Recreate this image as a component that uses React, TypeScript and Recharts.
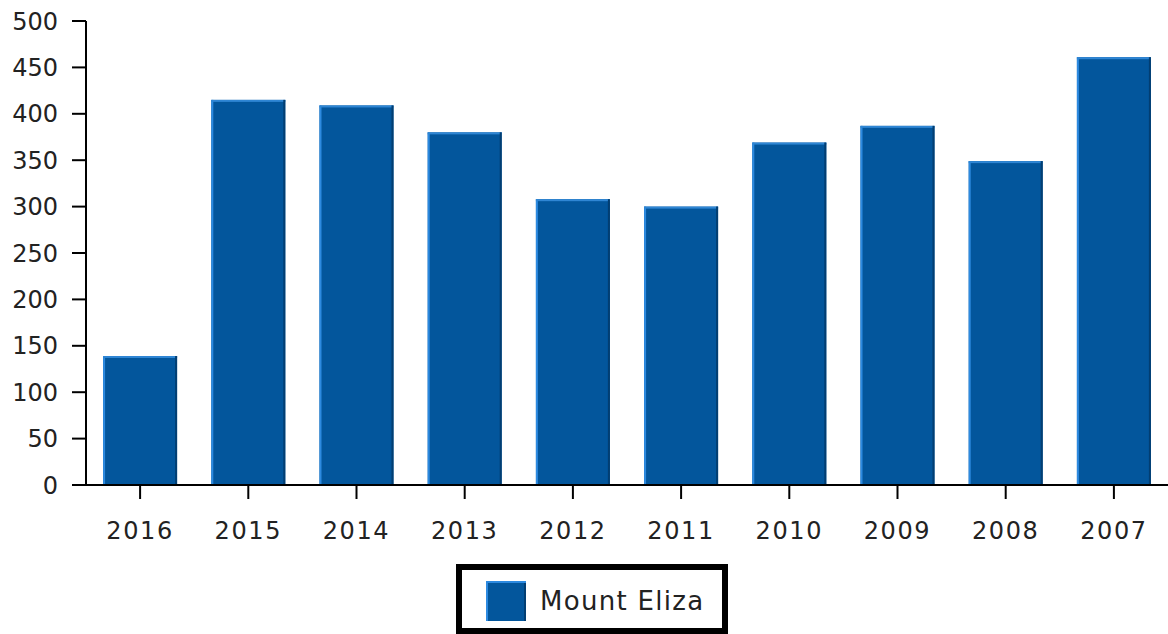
import React from "react";
import { BarChart, Bar, XAxis, YAxis, Legend } from "recharts";

const years = ["2016", "2015", "2014", "2013", "2012", "2011", "2010", "2009", "2008", "2007"];
const mountEliza = [139, 415, 409, 380, 308, 300, 369, 387, 349, 461];
const yTicks = [0, 50, 100, 150, 200, 250, 300, 350, 400, 450, 500];
const seriesName = "Mount Eliza";
const barColor = "#03569c";

const data = years.map((y, i) => ({ year: y, value: mountEliza[i] }));

const BevelBar = (props: any) => {
  const { x, y, width, height } = props;
  if (!height || height <= 0) return null;
  return (
    <g>
      <rect x={x} y={y} width={width} height={height} fill={barColor} />
      <rect x={x} y={y} width={2} height={height} fill="#2d8ae0" />
      <rect x={x} y={y} width={width} height={2} fill="#2f86d4" />
      <rect x={x + width - 2} y={y} width={2} height={height} fill="#023e72" />
    </g>
  );
};

const LegendBox = (props: any) => {
  const payload = props.payload || [];
  return (
    <div
      style={{
        boxSizing: "border-box",
        width: 272,
        height: 70,
        border: "6px solid #000",
        background: "#fff",
        display: "flex",
        alignItems: "center",
        paddingLeft: 24,
        paddingTop: 4,
        fontFamily: "DejaVu Sans, sans-serif",
      }}
    >
      {payload.map((p: any) => (
        <div key={p.value} style={{ display: "flex", alignItems: "center" }}>
          <div
            style={{
              width: 40,
              height: 40,
              background: barColor,
              boxShadow: "inset 2px 2px 0 #2d8ae0, inset -2px 0 0 #023e72",
            }}
          />
          <span style={{ marginLeft: 14, fontSize: 26, letterSpacing: 1.3, color: "#222" }}>{p.value}</span>
        </div>
      ))}
    </div>
  );
};

export default function App() {
  return (
    <div style={{ position: "absolute", left: 0, top: 0, width: 1168, height: 634, background: "#fff" }}>
      <BarChart
        width={1168}
        height={634}
        data={data}
        margin={{ top: 21, right: 0, left: 0, bottom: 0 }}
        barCategoryGap="15.8%"
      >
        <XAxis
          dataKey="year"
          height={149}
          tickSize={14}
          tickMargin={23}
          axisLine={{ stroke: "#000", strokeWidth: 2 }}
          tick={{ fill: "#222", fontSize: 24, letterSpacing: 1.6, fontFamily: "DejaVu Sans, sans-serif" }}
          tickLine={{ stroke: "#000", strokeWidth: 2 }}
        />
        <YAxis
          width={86}
          domain={[0, 500]}
          ticks={yTicks}
          tickSize={14}
          tickMargin={14}
          interval={0}
          axisLine={{ stroke: "#000", strokeWidth: 2 }}
          tick={{ fill: "#222", fontSize: 24, fontFamily: "DejaVu Sans, sans-serif" }}
          tickLine={{ stroke: "#000", strokeWidth: 2 }}
        />
        <Legend
          verticalAlign="middle"
          align="center"
          layout="horizontal"
          wrapperStyle={{ left: 456, top: 564, width: 272, height: 70 }}
          content={<LegendBox />}
        />
        <Bar dataKey="value" name={seriesName} fill={barColor} shape={<BevelBar />} isAnimationActive={false} />
      </BarChart>
    </div>
  );
}
